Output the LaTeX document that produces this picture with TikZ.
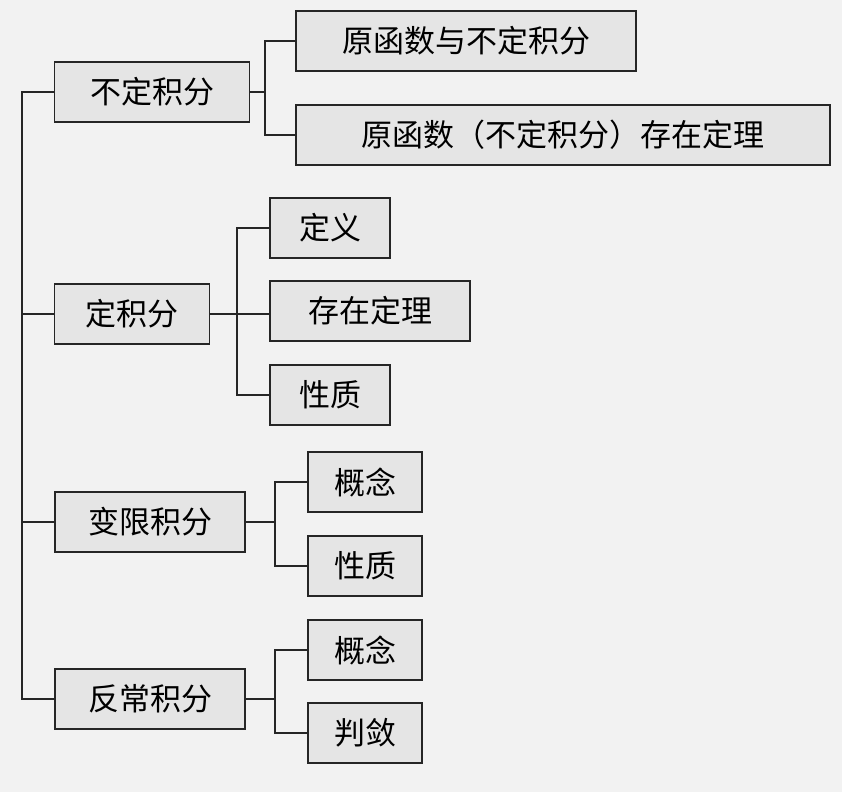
\documentclass[tikz,border=0pt]{standalone}
\usepackage{fontspec}
\setmainfont{Noto Sans CJK SC}
\begin{document}
\begin{tikzpicture}[x=1pt,y=-1pt,
  bx/.style={draw=black!85,line width=1.6pt,fill=black!10,font=\fontsize{31}{33}\selectfont,inner sep=0pt,minimum height=60pt,anchor=center},
  ln/.style={line width=1.6pt,draw=black!85}]
\fill[black!5] (0,0) rectangle (842,792);
\useasboundingbox (0,0) rectangle (842,792);
\node[bx,minimum width=195] (a) at (152,92) {不定积分};
\node[bx,minimum width=340] (a1) at (466,41) {原函数与不定积分};
\node[bx,minimum width=534] (a2) at (563,135) {原函数（不定积分）存在定理};
\node[bx,minimum width=155] (b) at (132,314) {定积分};
\node[bx,minimum width=120] (b1) at (330,228) {定义};
\node[bx,minimum width=200] (b2) at (370,311) {存在定理};
\node[bx,minimum width=120] (b3) at (330,395) {性质};
\node[bx,minimum width=190] (c) at (150,522) {变限积分};
\node[bx,minimum width=114] (c1) at (365,482) {概念};
\node[bx,minimum width=114] (c2) at (365,566) {性质};
\node[bx,minimum width=190] (d) at (150,699) {反常积分};
\node[bx,minimum width=114] (d1) at (365,650) {概念};
\node[bx,minimum width=114] (d2) at (365,733) {判敛};
\coordinate (t) at (22,92); \coordinate (u) at (22,699);
\draw[ln] (a.west) -- (t) -- (u) -- (d.west);
\draw[ln] (b.west) -- (b.west -| t);
\draw[ln] (c.west) -- (c.west -| t);
\draw[ln] (a.east) -- (265,92);
\draw[ln] (a1.west) -- (265,41) -- (265,135) -- (a2.west);
\draw[ln] (b.east) -- (b.east -| b2.west);
\draw[ln] (b1.west) -- (237,228) -- (237,395) -- (b3.west);
\draw[ln] (c.east) -- (275,522);
\draw[ln] (c1.west) -- (275,482) -- (275,566) -- (c2.west);
\draw[ln] (d.east) -- (275,699);
\draw[ln] (d1.west) -- (275,650) -- (275,733) -- (d2.west);
\end{tikzpicture}
\end{document}
